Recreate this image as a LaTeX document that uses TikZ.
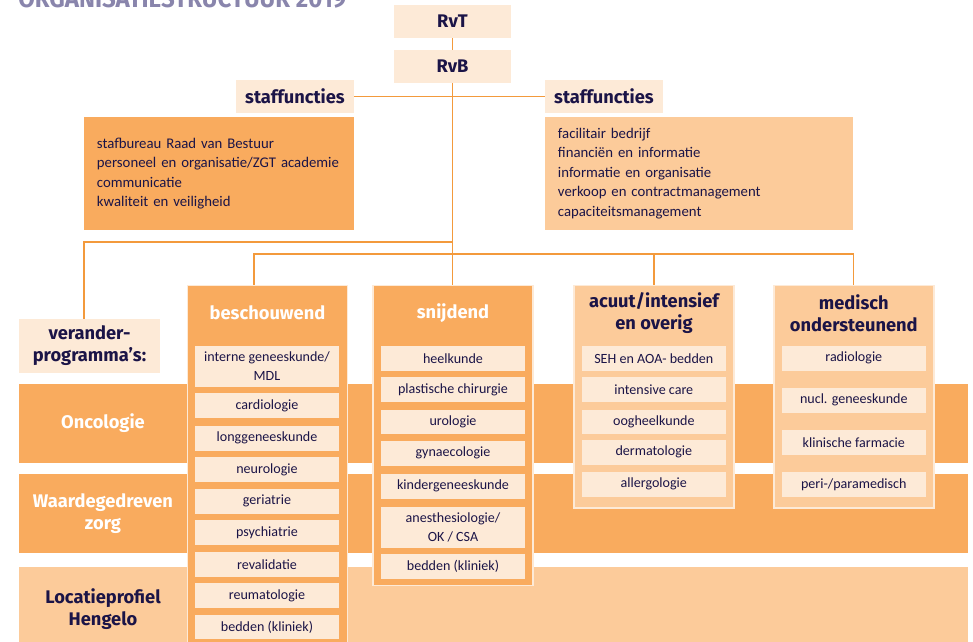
\documentclass[tikz,border=0pt]{standalone}
\usepackage{fontspec}
\setmainfont{Carlito}
\newfontfamily\headfont{Fira Sans}

\definecolor{zgtpeach}{HTML}{FDEAD7}
\definecolor{zgtorange}{HTML}{F9AB5E}
\definecolor{zgtlight}{HTML}{FCCB9A}
\definecolor{zgtline}{HTML}{F39A3C}
\definecolor{zgtnavy}{HTML}{1B1447}
\definecolor{zgtgrey}{HTML}{8985AC}

\tikzset{
  head/.style={fill=zgtpeach, text=zgtnavy, inner sep=0pt,
    font=\headfont\bfseries\fontsize{13}{15}\selectfont,
    minimum width=2.925cm, minimum height=0.82cm},
  stafflist/.style={text=zgtnavy, align=left, inner xsep=0.325cm,
    font=\fontsize{10.5}{13.8}\selectfont, minimum height=2.825cm},
  column/.style={draw=zgtpeach, line width=1.2pt, minimum width=4cm,
    inner sep=0pt, anchor=north},
  coltitle/.style={inner sep=0pt, align=center,
    font=\headfont\bfseries\fontsize{13}{15.6}\selectfont},
  item/.style={fill=zgtpeach, text=zgtnavy, inner sep=0pt, align=center,
    font=\fontsize{10}{13.5}\selectfont,
    minimum width=3.6cm, minimum height=0.61cm},
  bandlabel/.style={inner sep=0pt, align=center,
    font=\headfont\bfseries\fontsize{13}{15.6}\selectfont},
  link/.style={draw=zgtline, line width=0.9pt},
}

\begin{document}
\begin{tikzpicture}[x=0.025cm, y=-0.025cm]
  \clip (0,0) rectangle (973,641);
  % title, cut off at the top
  \node[anchor=base west, inner sep=0pt, text=zgtgrey] (title) at (18,7)
    {\resizebox{8.2cm}{0.45cm}{\headfont\bfseries ORGANISATIESTRUCTUUR 2019}};
  %
  \node[head] (rvt) at (452.5,21.5) {RvT};
  \node[head] (rvb) at (452.5,66.5) {RvB};
  \node[head] (stafL) at (295,96.5) {staffuncties};
  \node[head] (stafR) at (604,96.5) {staffuncties};
  \node[stafflist, fill=zgtorange, text width=6.1cm] (listL) at (219,173.5)
    {stafbureau Raad van Bestuur\\ personeel en organisatie/ZGT academie\\
     communicatie\\ kwaliteit en veiligheid};
  \node[stafflist, fill=zgtlight, text width=7.05cm] (listR) at (699,173.5)
    {facilitair bedrijf\\ financiën en informatie\\ informatie en organisatie\\
     verkoop en contractmanagement\\ capaciteitsmanagement};
  %
  \node[fill=zgtpeach, text=zgtnavy, bandlabel, minimum width=3.525cm,
    minimum height=1.34cm] (verander) at (89.5,345.8) {verander-\\programma’s:};
  % bands of the programmes
  \fill[zgtorange] (19,384) rectangle (968,463);
  \fill[zgtorange] (19,474) rectangle (968,553);
  \fill[zgtlight] (19,567) rectangle (968,660);
  \node[bandlabel, text=white] (onco) at (103,423.5) {Oncologie};
  \node[bandlabel, text=white] (waarde) at (103,513.5) {Waardegedreven\\zorg};
  \node[bandlabel, text=zgtnavy] (locatie) at (103,609.5) {Locatieprofiel\\Hengelo};
  %
  \node[column, fill=zgtorange, minimum height=9.5cm] (besch) at (267.5,284.5) {};
  \node[column, fill=zgtorange, minimum height=7.5cm] (snij) at (453,284.5) {};
  \node[column, fill=zgtlight, minimum height=5.57cm] (acuut) at (654,284.5) {};
  \node[column, fill=zgtlight, minimum height=5.57cm] (medisch) at (853.8,284.5) {};
  \node[coltitle, text=white] (beschT) at (267.5,313) {beschouwend};
  \node[coltitle, text=white] (snijT) at (453,313) {snijdend};
  \node[coltitle, text=zgtnavy] (acuutT) at (654,313) {acuut/intensief\\en overig};
  \node[coltitle, text=zgtnavy] (medischT) at (853.8,313) {medisch\\ondersteunend};
  % departments
  \node[item, minimum height=1.02cm] (beschI) at (267,366.3) {interne geneeskunde/\\MDL};
  \foreach \y/\t [count=\i] in {405.5/cardiologie, 438.3/longgeneeskunde,
      469.5/neurologie, 501.3/geriatrie, 532.5/psychiatrie, 564.5/revalidatie,
      595.5/reumatologie, 627.2/{bedden (kliniek)}}
    \node[item] (besch\i) at (267,\y) {\t};
  \foreach \y/\t [count=\i] in {358.3/heelkunde, 389.5/{plastische chirurgie},
      421.7/urologie, 453.3/gynaecologie, 486.3/kindergeneeskunde}
    \node[item] (snij\i) at (453,\y) {\t};
  \node[item, minimum height=1.02cm] (snijA) at (453,527.3) {anesthesiologie/\\OK / CSA};
  \node[item] (snijB) at (453,566.3) {bedden (kliniek)};
  \foreach \y/\t [count=\i] in {358.3/{SEH en AOA- bedden}, 389.5/{intensive care},
      421.7/oogheelkunde, 452.3/dermatologie, 484.3/allergologie}
    \node[item] (acuut\i) at (653.8,\y) {\t};
  \foreach \y/\t [count=\i] in {358.3/radiologie, 400.3/{nucl. geneeskunde},
      442.3/{klinische farmacie}, 484.3/{peri-/paramedisch}}
    \node[item] (medisch\i) at (853.8,\y) {\t};
  % connectors
  \coordinate (split) at (452.5,242);
  \coordinate (vdrop) at (84,242);
  \coordinate (bus) at (254,254);
  \draw[link] (rvt) -- (rvb);
  \draw[link] (rvb.south) -- (rvb.south |- snij.north);
  \draw[link] (stafL) -- (stafR);
  \draw[link] (split) -- (vdrop) -- (vdrop |- verander.north);
  \draw[link] (bus |- besch.north) -- (bus) -| (medisch.north);
  \draw[link] (acuut.north) -- (acuut.north |- bus);
\end{tikzpicture}
\end{document}
